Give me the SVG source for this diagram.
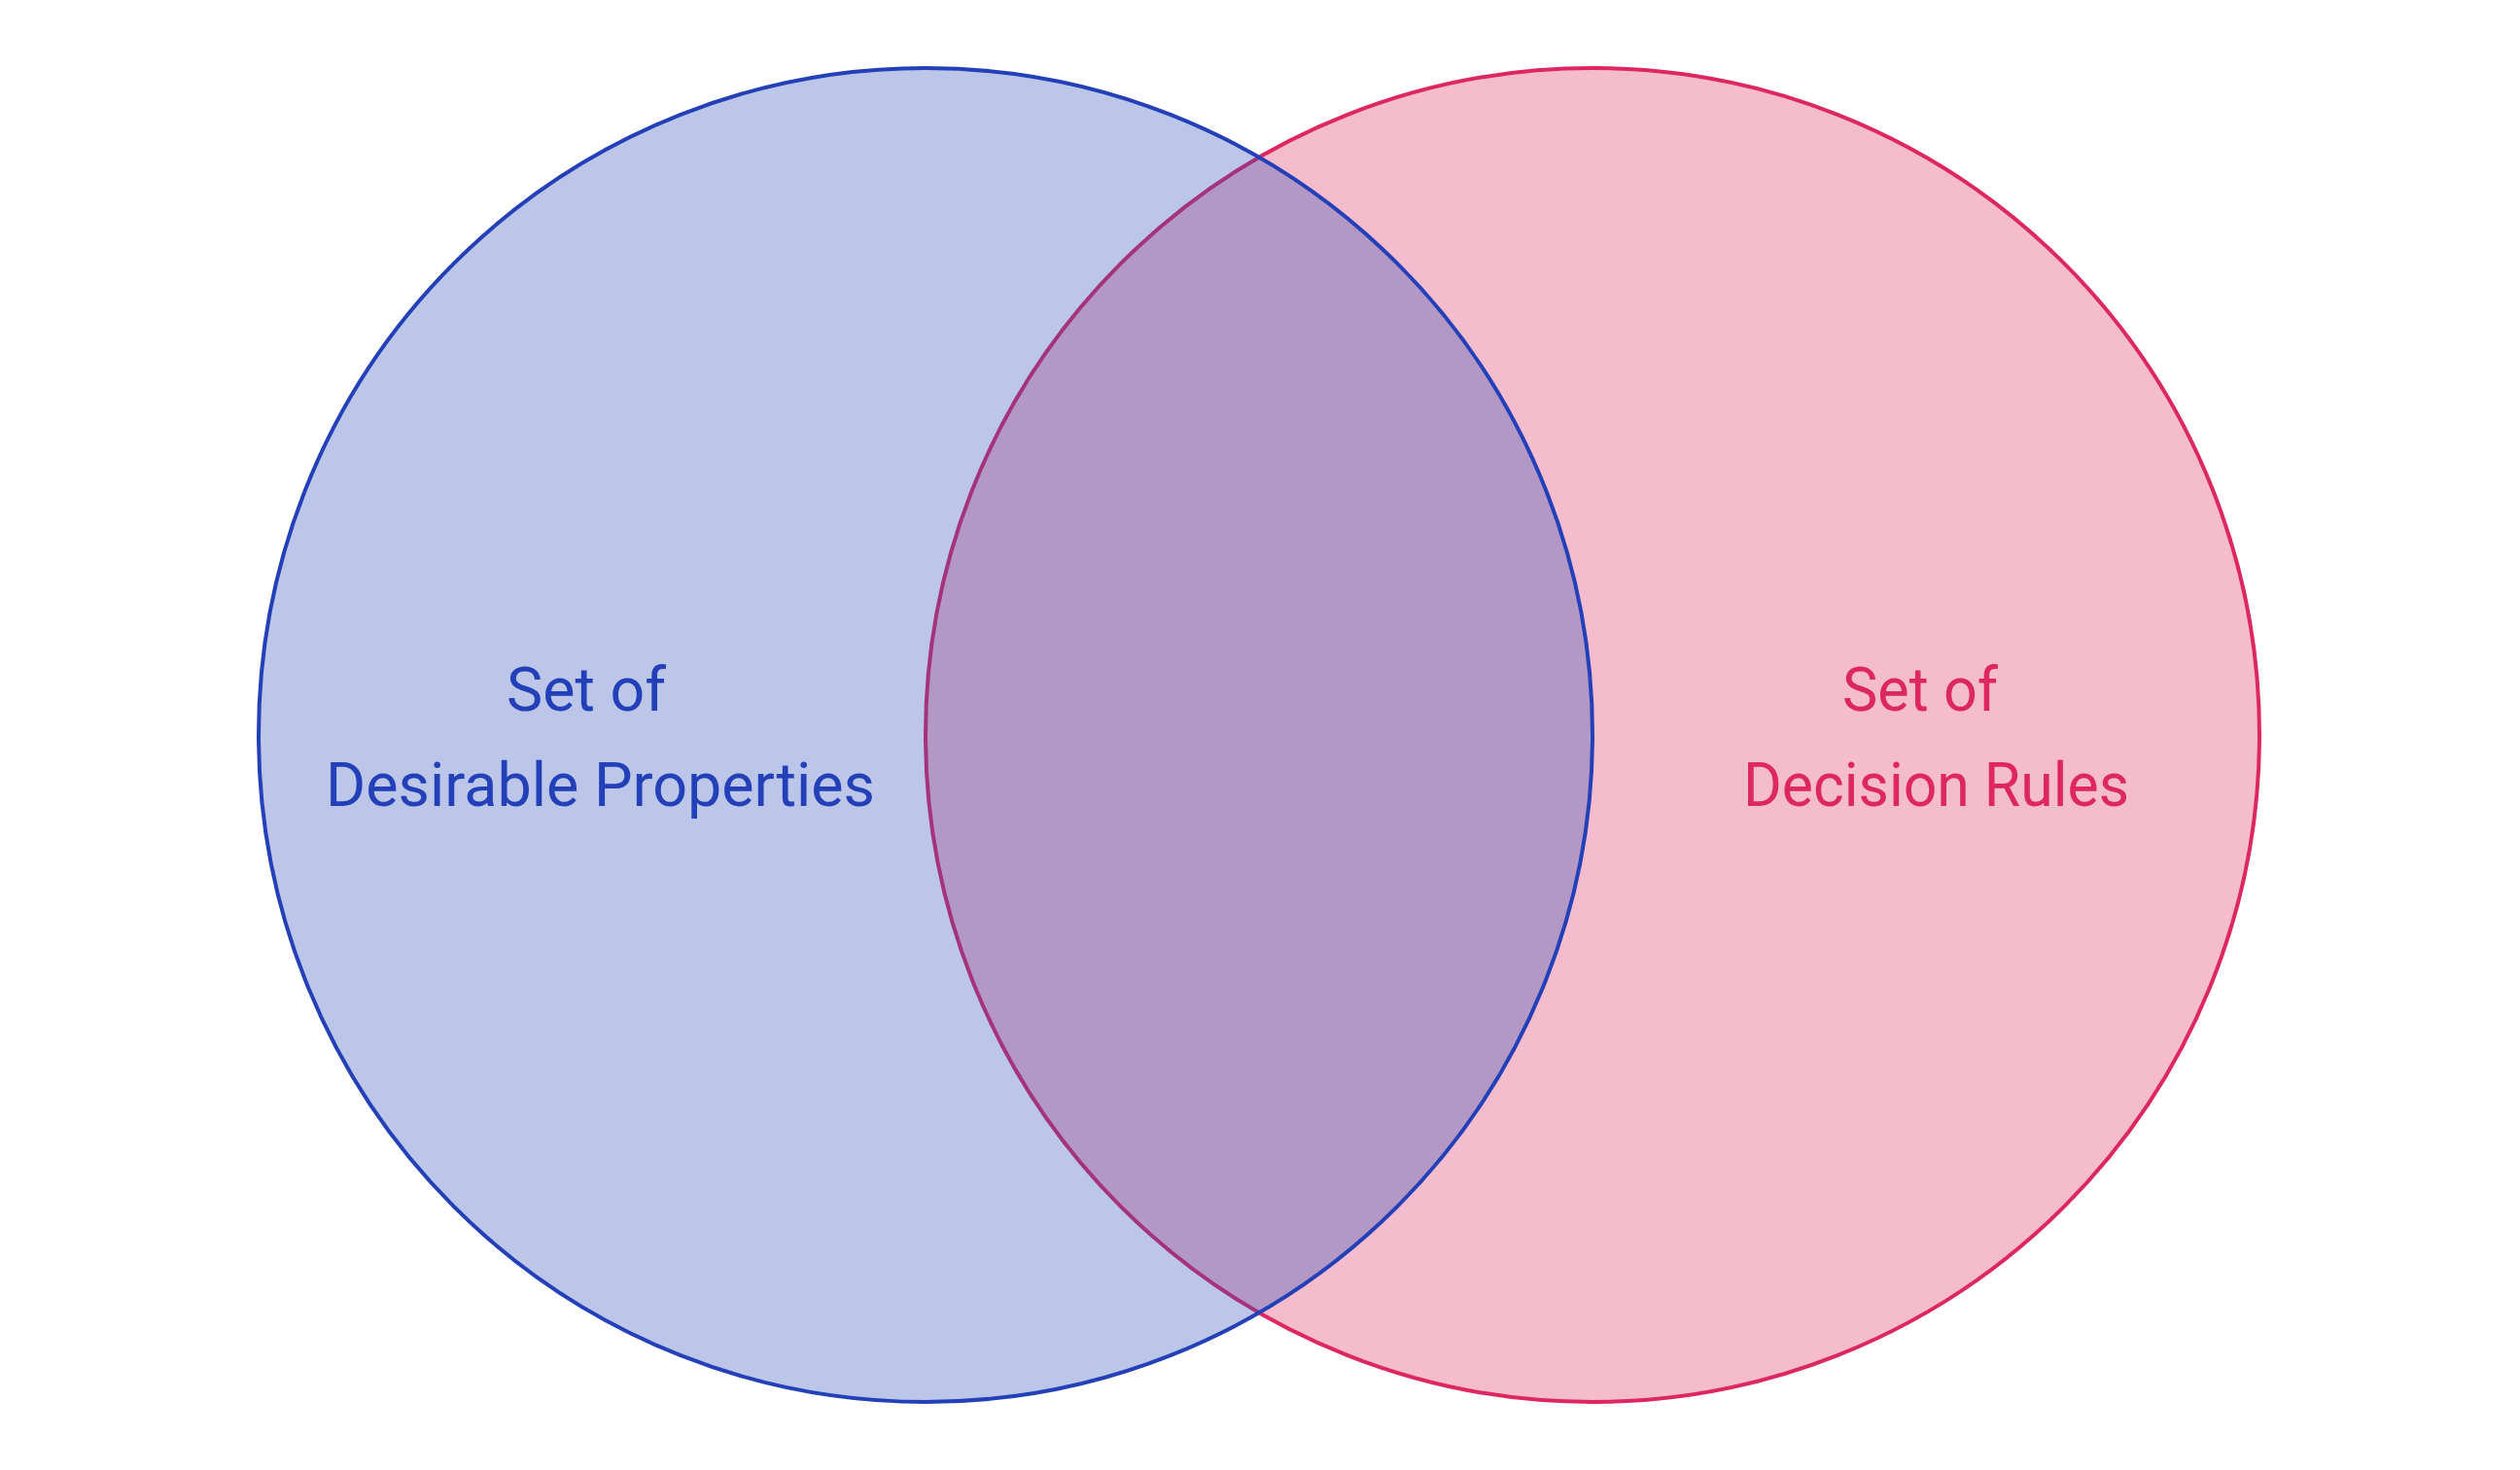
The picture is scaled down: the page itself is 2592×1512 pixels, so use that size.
<svg xmlns="http://www.w3.org/2000/svg" width="2592" height="1512" viewBox="0 0 2592 1512">
<style>
.lbl{font-family:Roboto,"Open Sans","Liberation Sans",sans-serif;font-size:63px;text-anchor:middle}
.blue{fill:#2340b8}
.pink{fill:#dd2760}
</style>
<rect width="2592" height="1512" fill="#ffffff"/>
<g id="rules">
<circle cx="1638" cy="756" r="686" fill="#f4bccd" stroke="#dd2760" stroke-width="4"/>
<text class="lbl pink" x="1975" y="731" textLength="160" lengthAdjust="spacingAndGlyphs">Set of</text>
<text class="lbl pink" x="1991.5" y="829" textLength="397" lengthAdjust="spacingAndGlyphs">Decision Rules</text>
</g>
<g id="properties">
<circle cx="952" cy="756" r="686" fill="rgb(42,77,183)" fill-opacity="0.32" stroke="#2340b8" stroke-width="4"/>
<text class="lbl blue" x="603" y="731" textLength="164" lengthAdjust="spacingAndGlyphs">Set of</text>
<text class="lbl blue" x="617.5" y="829" textLength="565" lengthAdjust="spacingAndGlyphs">Desirable Properties</text>
</g>
<g id="connectors"/>
</svg>
